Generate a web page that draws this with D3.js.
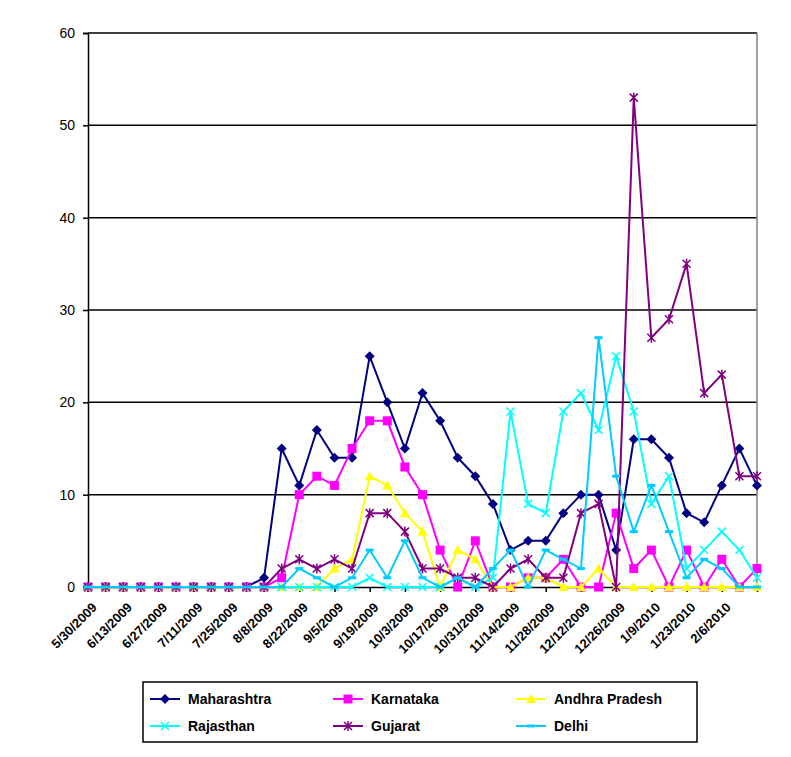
<!DOCTYPE html>
<html><head><meta charset="utf-8">
<script src="https://cdn.jsdelivr.net/npm/d3@7"></script>
<style>body{margin:0;background:#fff;font-family:Arial,"Liberation Sans",sans-serif;}</style>
</head><body>
<svg width="791" height="757"></svg>
<script>
// weekly dates 5/30/2009 .. 2/20/2010
var dates = [];
var start = new Date(2009, 4, 30);
for (var i = 0; i < 39; i++) {
	var d = new Date(start.getTime() + i * 7 * 864e5);
	dates.push((d.getMonth() + 1) + "/" + d.getDate() + "/" + d.getFullYear());
}
var maharashtra = [0,0,0,0,0,0,0,0,0,0,1,15,11,17,14,14,25,20,15,21,18,14,12,9,4,5,5,8,10,10,4,16,16,14,8,7,11,15,11];
var karnataka   = [0,0,0,0,0,0,0,0,0,0,0,1,10,12,11,15,18,18,13,10,4,0,5,0,0,1,1,3,0,0,8,2,4,0,4,0,3,0,2];
var andhra      = [0,0,0,0,0,0,0,0,0,0,0,0,0,0,2,3,12,11,8,6,0,4,3,0,0,1,1,0,0,2,0,0,0,0,0,0,0,0,0];
var rajasthan   = [0,0,0,0,0,0,0,0,0,0,0,0,0,0,0,0,1,0,0,0,0,1,0,1,19,9,8,19,21,17,25,19,9,12,2,4,6,4,1];
var gujarat     = [0,0,0,0,0,0,0,0,0,0,0,2,3,2,3,2,8,8,6,2,2,1,1,0,2,3,1,1,8,9,0,53,27,29,35,21,23,12,12];
var delhi       = [0,0,0,0,0,0,0,0,0,0,0,0,2,1,0,1,4,1,5,1,0,1,0,2,4,0,4,3,2,27,12,6,11,6,1,3,2,0,0];
var yTicks = [0,10,20,30,40,50,60];

var series = [
	{name:"Maharashtra", values:maharashtra, color:"#000080", marker:"diamond"},
	{name:"Karnataka", values:karnataka, color:"#ff00ff", marker:"square"},
	{name:"Andhra Pradesh", values:andhra, color:"#ffff00", marker:"triangle"},
	{name:"Rajasthan", values:rajasthan, color:"#00ffff", marker:"x"},
	{name:"Gujarat", values:gujarat, color:"#800080", marker:"star"},
	{name:"Delhi", values:delhi, color:"#00ccff", marker:"dash"}
];

var svg = d3.select("svg");
var pLeft = 88, pRight = 757, pTop = 33, pBottom = 587;
var x = d3.scaleLinear().domain([0, dates.length - 1]).range([pLeft, pRight]);
var y = d3.scaleLinear().domain([0, 60]).range([pBottom, pTop]);

// gridlines
svg.append("g").selectAll("line").data(yTicks.slice(1)).enter().append("line")
	.attr("x1", pLeft).attr("x2", pRight)
	.attr("y1", function(d){ return y(d); }).attr("y2", function(d){ return y(d); })
	.attr("stroke", "#000").attr("stroke-width", 1.5);
svg.append("line").attr("x1", pRight).attr("x2", pRight).attr("y1", pTop).attr("y2", pBottom)
	.attr("stroke", "#808080").attr("stroke-width", 1.5);

var yAxis = svg.append("g").attr("transform", "translate(" + pLeft + ",0)")
	.call(d3.axisLeft(y).tickValues(yTicks).tickSize(5).tickPadding(8));
var xAxis = svg.append("g").attr("transform", "translate(0," + pBottom + ")")
	.call(d3.axisBottom(x).tickValues(d3.range(0, 37, 2)).tickSize(5).tickFormat(function(i){ return dates[i]; }));
[yAxis, xAxis].forEach(function(a){
	a.selectAll("path,line").attr("stroke", "#000").attr("stroke-width", 1.5);
	a.selectAll("text").attr("font-family", "Arial, 'Liberation Sans'").attr("fill", "#000");
});
yAxis.selectAll("text").attr("font-size", 14);
xAxis.selectAll("text").attr("font-size", 13).attr("font-weight", "bold")
	.attr("text-anchor", "end").attr("transform", "translate(6,18) rotate(-45)").attr("dy", "0.35em").attr("y", 0);

function drawMarker(g, type, color) {
	if (type == "diamond") g.append("path").attr("d", "M0,-5L5,0L0,5L-5,0Z").attr("fill", color);
	else if (type == "square") g.append("rect").attr("x", -4.5).attr("y", -4.5).attr("width", 9).attr("height", 9).attr("fill", color);
	else if (type == "triangle") g.append("path").attr("d", "M0,-5L5,4L-5,4Z").attr("fill", color);
	else if (type == "x") g.append("path").attr("d", "M-4,-4L4,4M-4,4L4,-4").attr("stroke", color).attr("stroke-width", 1.5);
	else if (type == "star") g.append("path").attr("d", "M-4,-4L4,4M-4,4L4,-4M0,-5L0,5").attr("stroke", color).attr("stroke-width", 1.5);
	else g.append("path").attr("d", "M-4,0L4,0").attr("stroke", color).attr("stroke-width", 3);
}

var line = d3.line().x(function(d, i){ return x(i); }).y(function(d){ return y(d); });
series.forEach(function(s){
	svg.append("path").datum(s.values).attr("d", line)
		.attr("fill", "none").attr("stroke", s.color).attr("stroke-width", 2);
	svg.append("g").selectAll("g").data(s.values).enter().append("g")
		.attr("transform", function(d, i){ return "translate(" + x(i) + "," + y(d) + ")"; })
		.each(function(){ drawMarker(d3.select(this), s.marker, s.color); });
});

// legend
var lg = svg.append("g");
lg.append("rect").attr("x", 143).attr("y", 682).attr("width", 554).attr("height", 60)
	.attr("fill", "#fff").attr("stroke", "#000").attr("stroke-width", 1.5);
series.forEach(function(s, i){
	var cx = 150 + (i % 3) * 183, cy = 699 + Math.floor(i / 3) * 27;
	var item = lg.append("g").attr("transform", "translate(" + cx + "," + cy + ")");
	item.append("line").attr("x1", 0).attr("x2", 30).attr("stroke", s.color).attr("stroke-width", 2);
	drawMarker(item.append("g").attr("transform", "translate(15,0)"), s.marker, s.color);
	item.append("text").attr("x", 38).attr("dy", "0.35em").attr("font-size", 14).attr("font-weight", "bold")
		.attr("font-family", "Arial, 'Liberation Sans'").text(s.name);
});
</script>
</body></html>
